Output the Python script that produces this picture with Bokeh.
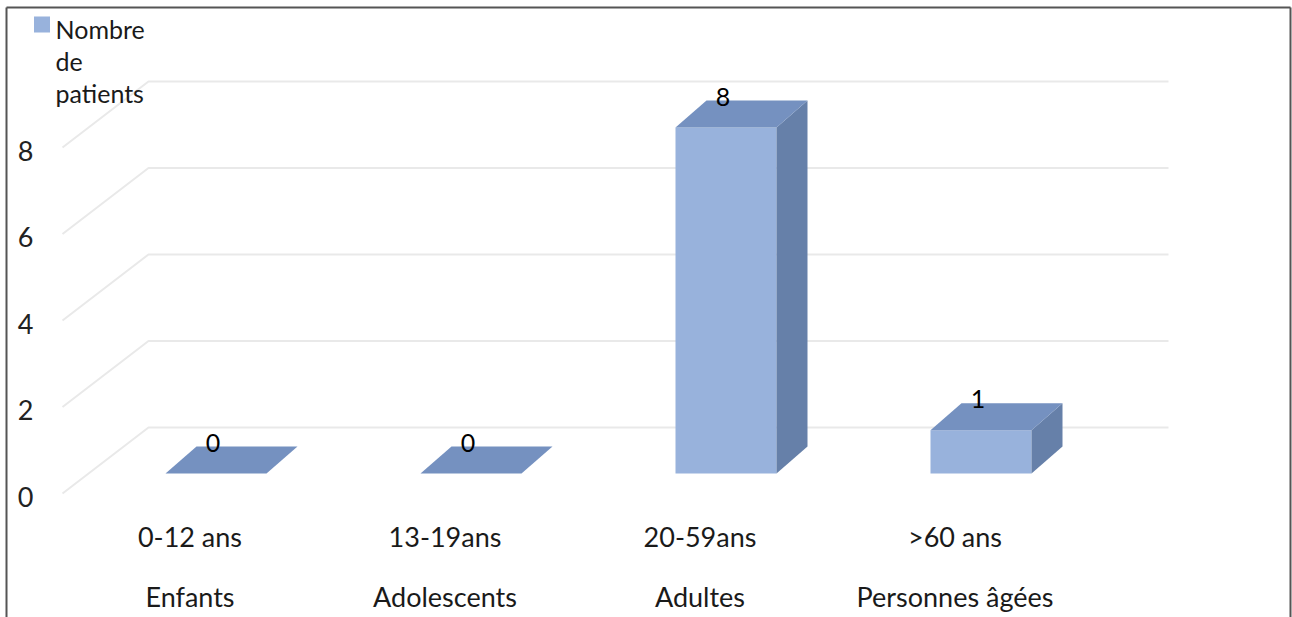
from bokeh.plotting import figure
from bokeh.models import Range1d
from bokeh.core.properties import value
from bokeh.embed import file_html
from bokeh.resources import INLINE

# ---------------- data ----------------
categories = ["Enfants", "Adolescents", "Adultes", "Personnes âgées"]
age_ranges = ["0-12 ans", "13-19ans", "20-59ans", ">60 ans"]
patients = [0, 0, 8, 1]
y_ticks = [0, 2, 4, 6, 8]
series_name = ["Nombre", "de", "patients"]

# ---------------- geometry / style ----------------
W, H = 1292, 617
X0, CAT_PX = 62, 255          # front-left corner of floor, pixels per category
Y0, UNIT_PX = 493, 43.25      # front zero line, pixels per unit
FLOOR_DX, FLOOR_DY = 86, 66   # depth of the 3D floor (px)
BAR_OFF_DX, BAR_OFF_DY = 26, 20
BAR_W = 101
BAR_DX, BAR_DY = 31, 27

FRONT = "#98b2dc"
TOP = "#7591c0"
SIDE = "#6680a9"
GRID = "#e9e9e9"
FONT = value("Lato")


def ux(dpx):
    return dpx / CAT_PX


def uy(dpx):
    return dpx / UNIT_PX


def px(x):
    return (x - X0) / CAT_PX


def py(y):
    return (Y0 - y) / UNIT_PX


p = figure(width=W, height=H, output_backend="svg", toolbar_location=None,
           x_range=Range1d(px(0), px(W)), y_range=Range1d(py(H), py(0)),
           min_border=0, x_axis_type=None, y_axis_type=None)
p.grid.visible = False
p.outline_line_color = None
p.background_fill_color = "white"
p.border_fill_color = "white"

# gridlines: left wall diagonal + back wall horizontal
gxs, gys = [], []
for v in y_ticks:
    gxs.append([0, ux(FLOOR_DX), len(categories) + ux(FLOOR_DX)])
    gys.append([v, v + uy(FLOOR_DY), v + uy(FLOOR_DY)])
p.multi_line(gxs, gys, line_color=GRID, line_width=2)

# y tick labels
p.text(x=[px(25)] * len(y_ticks), y=y_ticks, text=[str(t) for t in y_ticks],
       text_font=FONT, text_font_size="27px", text_color="#222222",
       text_align="center", text_baseline="middle", y_offset=3)

# bars
w = ux(BAR_W)
bdx, bdy = ux(BAR_DX), uy(BAR_DY)
base = uy(BAR_OFF_DY)
fl, fr, fb, ft = [], [], [], []
top_xs, top_ys, side_xs, side_ys = [], [], [], []
lab_x, lab_y = [], []
for i, v in enumerate(patients):
    cx = i + 0.5 + ux(BAR_OFF_DX)
    l, r = cx - w / 2, cx + w / 2
    t = base + v
    if v > 0:
        fl.append(l); fr.append(r); fb.append(base); ft.append(t)
        side_xs.append([r, r + bdx, r + bdx, r])
        side_ys.append([base, base + bdy, t + bdy, t])
    top_xs.append([l, r, r + bdx, l + bdx])
    top_ys.append([t, t, t + bdy, t + bdy])
    lab_x.append(cx - ux(3))
    lab_y.append(t + bdy)

p.quad(left=fl, right=fr, bottom=fb, top=ft, fill_color=FRONT, line_color=None)
p.patches(side_xs, side_ys, fill_color=SIDE, line_color=None)
p.patches(top_xs, top_ys, fill_color=TOP, line_color=None)

# data labels
p.text(x=lab_x, y=lab_y, text=[str(v) for v in patients], text_font=FONT,
       text_font_size="25px", text_color="#000000", text_align="center",
       text_baseline="bottom", y_offset=5)

# category labels (two lines)
cat_x = [i + 0.5 for i in range(len(categories))]
p.text(x=cat_x, y=[py(536)] * len(cat_x), text=age_ranges, text_font=FONT,
       text_font_size="27px", text_color="#1a1a1a", text_align="center",
       text_baseline="middle")
p.text(x=cat_x, y=[py(596)] * len(cat_x), text=categories, text_font=FONT,
       text_font_size="27px", text_color="#1a1a1a", text_align="center",
       text_baseline="middle")

# legend
p.scatter(x=[px(41.5)], y=[py(24)], marker="square", size=16,
          fill_color=FRONT, line_color=None)
p.text(x=[px(55)] * len(series_name), y=[py(28 + 32 * k) for k in range(len(series_name))],
       text=series_name, text_font=FONT, text_font_size="25px",
       text_color="#1a1a1a", text_align="left", text_baseline="middle")

# chart border
p.multi_line([[px(6), px(6)], [px(6), px(1290)], [px(1290), px(1290)]],
             [[py(H + 5), py(7)], [py(7), py(7)], [py(7), py(H + 5)]],
             line_color="#555555", line_width=2)

open("out.html", "w").write(file_html(p, INLINE))
